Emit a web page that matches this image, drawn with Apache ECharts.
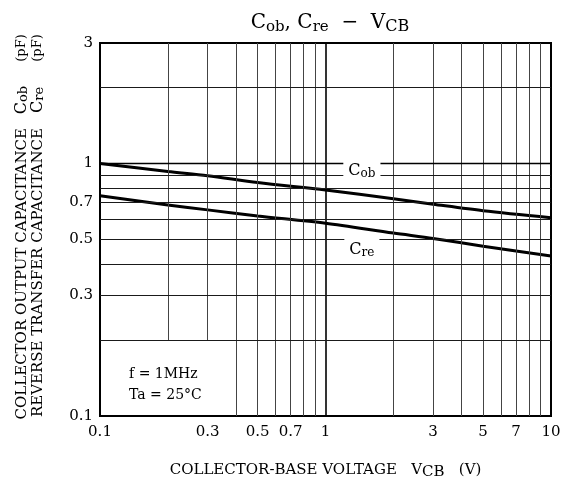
<!DOCTYPE html>
<html>
<head>
<meta charset="utf-8">
<script src="https://cdn.jsdelivr.net/npm/echarts@6/dist/echarts.min.js"></script>
<style>
  html, body { margin: 0; padding: 0; background: #fff; }
  #chart { width: 568px; height: 485px; }
</style>
</head>
<body>
<div id="chart"></div>
<script>
// 数据
var voltage = [0.1, 0.2, 0.3, 0.5, 1, 2, 3, 5, 10];
var cob = [1.0, 0.93, 0.895, 0.84, 0.785, 0.725, 0.69, 0.65, 0.61];
var cre = [0.745, 0.685, 0.655, 0.62, 0.58, 0.53, 0.505, 0.47, 0.43];

var xLabels = [0.1, 0.3, 0.5, 0.7, 1, 3, 5, 7, 10];
var yLabels = [0.1, 0.3, 0.5, 0.7, 1, 3];
var xGrid = [0.2, 0.3, 0.4, 0.5, 0.6, 0.7, 0.8, 0.9, 1, 2, 3, 4, 5, 6, 7, 8, 9];
var yGrid = [0.2, 0.3, 0.4, 0.5, 0.6, 0.7, 0.8, 0.9, 1, 2];

var FONT = 'DejaVu Serif';

function pairs(xs, ys) {
    return xs.map(function (x, i) { return [x, ys[i]]; });
}

// 网格线 (markLine)
function gridLines() {
    var lines = [];
    xGrid.forEach(function (v) {
        var major = v === 1;
        var y0 = (v === 0.2 || v === 0.3) ? 0.2 : 0.1; // 左下角留给注释文字
        lines.push([
            { coord: [v, y0], lineStyle: { type: 'solid', color: major ? '#000' : '#444', width: major ? 1.6 : 1 } },
            { coord: [v, 3] }
        ]);
    });
    yGrid.forEach(function (v) {
        var major = v === 1;
        lines.push([
            { coord: [0.1, v], lineStyle: { type: 'solid', color: major ? '#000' : '#1a1a1a', width: major ? 1.4 : 1 } },
            { coord: [10, v] }
        ]);
    });
    return lines;
}

var sub = { fontSize: 12, fontFamily: FONT, color: '#000', verticalAlign: 'bottom', lineHeight: 12, textBorderWidth: 0 };

var myChart = echarts.init(document.getElementById('chart'));
var option = {
    backgroundColor: '#fff',
    animation: false,
    title: {
        text: 'C{s|ob}, C{s|re}  −  V{s2|CB}',
        left: 325,
        textAlign: 'center',
        top: 5,
        textStyle: {
            fontFamily: FONT,
            fontSize: 20,
            fontWeight: 'normal',
            color: '#000',
            lineHeight: 25,
            rich: {
                s: { fontSize: 15, fontFamily: FONT, color: '#000', verticalAlign: 'bottom', lineHeight: 16 },
                s2: { fontSize: 16, fontFamily: FONT, color: '#000', verticalAlign: 'bottom', lineHeight: 16 }
            }
        }
    },
    grid: {
        left: 100,
        right: 17,
        top: 43,
        bottom: 69,
        show: true,
        borderColor: '#000',
        borderWidth: 2,
        backgroundColor: 'transparent'
    },
    xAxis: {
        type: 'log',
        logBase: 10,
        min: 0.1,
        max: 10,
        axisLine: { show: false },
        axisTick: { show: false },
        splitLine: { show: false },
        axisLabel: {
            customValues: xLabels,
            formatter: function (v) { return String(+v.toPrecision(3)); },
            fontFamily: FONT,
            fontSize: 15,
            color: '#000',
            margin: 9
        },
        name: 'COLLECTOR-BASE VOLTAGE   V{s|CB}   (V)',
        nameLocation: 'middle',
        nameGap: 44,
        nameTextStyle: {
            fontFamily: FONT,
            fontSize: 15,
            color: '#000',
            lineHeight: 20,
            rich: { s: { fontSize: 15, fontFamily: FONT, color: '#000', verticalAlign: 'bottom', lineHeight: 14 } }
        }
    },
    yAxis: {
        type: 'log',
        logBase: 10,
        min: 0.1,
        max: 3,
        axisLine: { show: false },
        axisTick: { show: false },
        splitLine: { show: false },
        axisLabel: {
            customValues: yLabels,
            formatter: function (v) { return String(+v.toPrecision(3)); },
            fontFamily: FONT,
            fontSize: 15,
            color: '#000',
            margin: 7
        }
    },
    graphic: [
        // 纵轴标题 (两行, 旋转)
        { type: 'text', x: 22, y: 128, rotation: Math.PI / 2,
          style: { text: 'COLLECTOR OUTPUT CAPACITANCE', font: '15px "DejaVu Serif"', fill: '#000', align: 'right', verticalAlign: 'middle' } },
        { type: 'text', x: 38, y: 128, rotation: Math.PI / 2,
          style: { text: 'REVERSE TRANSFER CAPACITANCE', font: '15px "DejaVu Serif"', fill: '#000', align: 'right', verticalAlign: 'middle' } },
        { type: 'text', x: 22, y: 100, rotation: Math.PI / 2,
          style: { text: 'C{s|ob}', font: '16px "DejaVu Serif"', fill: '#000', align: 'center', verticalAlign: 'middle',
                   rich: { s: { fontSize: 13, fontFamily: FONT, verticalAlign: 'bottom', lineHeight: 12 } } } },
        { type: 'text', x: 38, y: 100, rotation: Math.PI / 2,
          style: { text: 'C{s|re}', font: '16px "DejaVu Serif"', fill: '#000', align: 'center', verticalAlign: 'middle',
                   rich: { s: { fontSize: 13, fontFamily: FONT, verticalAlign: 'bottom', lineHeight: 12 } } } },
        { type: 'text', x: 22, y: 48, rotation: Math.PI / 2,
          style: { text: '(pF)', font: '13px "DejaVu Serif"', fill: '#000', align: 'center', verticalAlign: 'middle' } },
        { type: 'text', x: 38, y: 48, rotation: Math.PI / 2,
          style: { text: '(pF)', font: '13px "DejaVu Serif"', fill: '#000', align: 'center', verticalAlign: 'middle' } },
        // 测试条件
        { type: 'text', x: 129, y: 374,
          style: { text: 'f = 1MHz', font: '14px "DejaVu Serif"', fill: '#000', verticalAlign: 'middle' } },
        { type: 'text', x: 129, y: 395,
          style: { text: 'Ta = 25°C', font: '14px "DejaVu Serif"', fill: '#000', verticalAlign: 'middle' } }
    ],
    series: [
        {
            name: 'grid',
            type: 'line',
            data: [],
            silent: true,
            z: 1,
            markLine: {
                silent: true,
                symbol: 'none',
                label: { show: false },
                animation: false,
                data: gridLines()
            }
        },
        {
            name: 'Cob',
            type: 'line',
            data: pairs(voltage, cob),
            smooth: 0.3,
            showSymbol: false,
            z: 3,
            lineStyle: { color: '#000', width: 3 }
        },
        {
            name: 'Cre',
            type: 'line',
            data: pairs(voltage, cre),
            smooth: 0.3,
            showSymbol: false,
            z: 3,
            lineStyle: { color: '#000', width: 3 }
        },
        {
            // 曲线标签 (白底遮住网格线)
            name: 'labels',
            type: 'scatter',
            symbolSize: 0,
            z: 4,
            zlevel: 1,
            silent: true,
            itemStyle: { opacity: 1, color: '#000' },
            data: [
                { value: [1.45, 0.94], label: { formatter: 'C{s|ob}', padding: [3, 5, 1, 5] } },
                { value: [1.45, 0.46], label: { formatter: 'C{s|re}', padding: [3, 5, 1, 5] } }
            ],
            label: {
                show: true,
                position: 'inside',
                backgroundColor: '#fff',
                fontFamily: FONT,
                fontSize: 16,
                color: '#000',
                opacity: 1,
                textBorderWidth: 0,
                textBorderColor: 'transparent',
                lineHeight: 18,
                rich: { s: sub }
            }
        }
    ]
};
myChart.setOption(option);
</script>
</body>
</html>
